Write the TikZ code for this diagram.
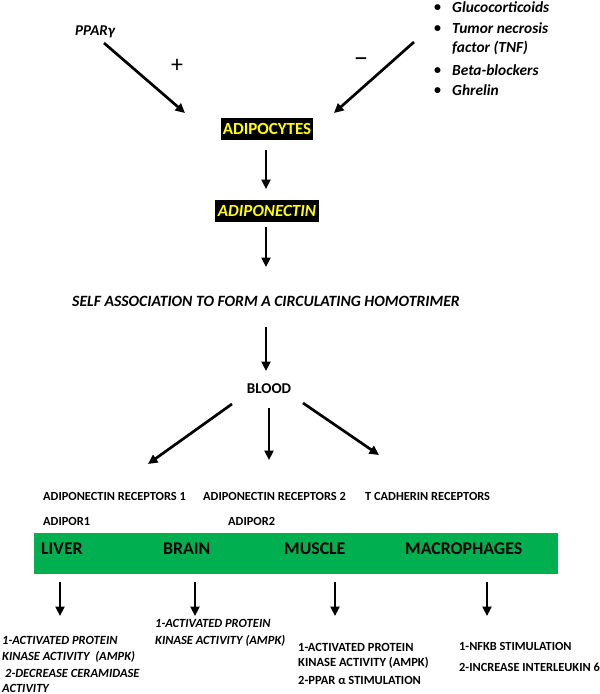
\documentclass[tikz,border=0pt]{standalone}
\usepackage{fontspec}
\setmainfont{Carlito}
\usetikzlibrary{arrows.meta}
\definecolor{bargreen}{HTML}{00B050}
\definecolor{hiyellow}{HTML}{FFFF00}
\begin{document}
\begin{tikzpicture}[x=1pt,y=-1pt,
  arr/.style={line width=2.7pt,-{Triangle[length=9.5pt,width=9pt]}},
  fs/.style={font=\fontsize{#1}{#1}\selectfont\bfseries},
  fsi/.style={font=\fontsize{#1}{#1}\selectfont\bfseries\itshape},
  lw/.style={anchor=west,inner sep=0pt},
  hbox/.style={fill=black,text=hiyellow,inner sep=0pt}]
\useasboundingbox (0,0) rectangle (600,694);

% top
\node[fsi=15,lw] (ppar) at (75,32) {PPARγ};
\node[font=\fontsize{24}{24}\selectfont,inner sep=0pt] (plus) at (177,66) {+};
\node[font=\fontsize{28}{28}\selectfont,inner sep=0pt] (minus) at (361,63) {−};
\foreach \y/\t/\b [count=\i] in {7.5/Glucocorticoids/1,28/Tumor necrosis/1,48/factor (TNF)/0,70/Beta-blockers/1,90/Ghrelin/1}{
  \ifnum\b=1 \node[fs=14,lw] (bul\i) at (434,\y+1) {•};\fi
  \node[fsi=15.4,lw] (neg\i) at (452,\y) {\t};
}
\coordinate (p1) at (104,43);
\coordinate (p2) at (185,113);
\coordinate (n1) at (414,42);
\coordinate (n2) at (334,113);

\node[hbox,fs=17,minimum width=92pt,minimum height=22pt] (adipo) at (267,129) {ADIPOCYTES};
\node[hbox,fsi=17,minimum width=104pt,minimum height=22pt] (adipon) at (267,211) {ADIPONECTIN};
\node[fsi=15.7,inner sep=0pt] (self) at (266,301) {SELF ASSOCIATION TO FORM A CIRCULATING HOMOTRIMER};
\node[fs=15,inner sep=0pt] (blood) at (269,389) {BLOOD};

\draw[arr] (p1) -- (p2);
\draw[arr] (n1) -- (n2);
\draw[arr] (266,150) coordinate (a1) -- (266,189) coordinate (a2);
\draw[arr] (266,227) coordinate (b1) -- (266,267) coordinate (b2);
\draw[arr] (266,327) coordinate (c1) -- (266,371) coordinate (c2);
\draw[arr] (232,404) coordinate (d1) -- (148,464) coordinate (d2);
\draw[arr] (269,408) coordinate (e1) -- (269,460) coordinate (e2);
\draw[arr] (303,403) coordinate (f1) -- (379,455) coordinate (f2);

% receptors
\node[fs=12.4,lw] (r1) at (43,496) {ADIPONECTIN RECEPTORS 1};
\node[fs=12.4,lw] (r2) at (203,496) {ADIPONECTIN RECEPTORS 2};
\node[fs=12.4,lw] (r3) at (365,496) {T CADHERIN RECEPTORS};
\node[fs=12.4,lw] (ar1) at (43,521) {ADIPOR1};
\node[fs=12.4,lw] (ar2) at (228,521) {ADIPOR2};

% green bar
\fill[bargreen] (34,533) rectangle (558,574);
\node[fs=17.8,lw] (liver) at (41,549) {LIVER};
\node[fs=17.8,lw] (brain) at (163,549) {BRAIN};
\node[fs=17.8,lw] (muscle) at (284,549) {MUSCLE};
\node[fs=17.8,lw] (macro) at (405,549) {MACROPHAGES};

% bottom arrows
\foreach \x/\n in {60/g1,195/g2,335/g3,487/g4}{
  \draw[arr] (\x,582) coordinate (\n s) -- (\x,616) coordinate (\n e);
}

% effects
\node[fsi=12.5,lw] (l1) at (2,640) {1-ACTIVATED PROTEIN};
\node[fsi=12.5,lw] (l2) at (2,657) {KINASE ACTIVITY \ (AMPK)};
\node[fsi=12.5,lw] (l3) at (5,673) {2-DECREASE CERAMIDASE};
\node[fsi=12.5,lw] (l4) at (2,688) {ACTIVITY};
\node[fsi=12.5,lw] (b1t) at (155,623) {1-ACTIVATED PROTEIN};
\node[fsi=12.5,lw] (b2t) at (155,641) {KINASE ACTIVITY (AMPK)};
\node[fs=12.5,lw] (m1) at (298,647) {1-ACTIVATED PROTEIN};
\node[fs=12.5,lw] (m2) at (298,663) {KINASE ACTIVITY (AMPK)};
\node[fs=12.5,lw] (m3) at (298,680) {2-PPAR α STIMULATION};
\node[fs=12.4,lw] (x1) at (459,646) {1-NFKB STIMULATION};
\node[fs=12.4,lw] (x2) at (459,667) {2-INCREASE INTERLEUKIN 6};
\end{tikzpicture}
\end{document}
